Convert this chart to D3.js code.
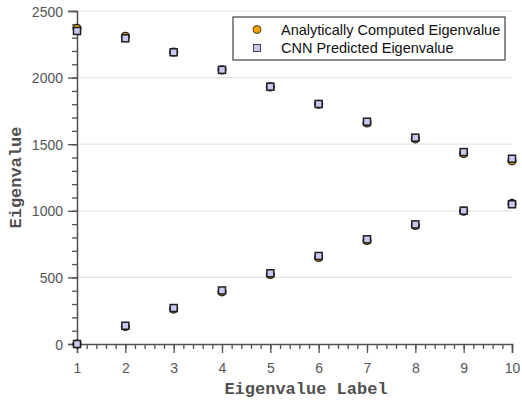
<!DOCTYPE html>
<html>
<head>
<meta charset="utf-8">
<script src="https://cdn.jsdelivr.net/npm/d3@7"></script>
<style>
  body { margin: 0; background: #fff; }
  svg { display: block; }
</style>
</head>
<body>
<div id="chart"></div>
<script>
// eigenvalue labels 1..10
var labels = [1, 2, 3, 4, 5, 6, 7, 8, 9, 10];

// two branches of eigenvalues, analytic vs CNN prediction
var analyticUpper = [2370, 2310, 2192, 2058, 1930, 1800, 1660, 1540, 1430, 1375];
var cnnUpper      = [2350, 2295, 2190, 2058, 1932, 1802, 1669, 1549, 1441, 1391];
var analyticLower = [0, 132, 262, 392, 522, 650, 777, 890, 997, 1055];
var cnnLower      = [0, 137, 270, 402, 531, 661, 786, 898, 1001, 1049];

var yTicks = [0, 500, 1000, 1500, 2000, 2500];
var legendNames = ["Analytically Computed Eigenvalue", "CNN Predicted Eigenvalue"];

var W = 522, H = 404;
var margin = {top: 11, right: 10, bottom: 60, left: 77};
var w = W - margin.left - margin.right,
    h = H - margin.top - margin.bottom;

var axisColor = "#505050";
var orange = "#f5a000", lavender = "#c8c8f2", edge = "#1e1e1e";

var svg = d3.select("#chart").append("svg")
  .attr("width", W).attr("height", H);
var g = svg.append("g")
  .attr("transform", "translate(" + margin.left + "," + margin.top + ")");

var x = d3.scaleLinear().domain([1, 10]).range([0, w]);
var y = d3.scaleLinear().domain([0, 2500]).range([h, 0]);

// grid lines
g.append("g").selectAll("line")
  .data(yTicks.filter(function(d){ return d > 0; }))
  .enter().append("line")
  .attr("x1", 0).attr("x2", w)
  .attr("y1", function(d){ return y(d); })
  .attr("y2", function(d){ return y(d); })
  .attr("stroke", "#e4e4e4")
  .attr("stroke-width", 1.2);

// minor ticks
g.append("g")
  .attr("transform", "translate(0," + h + ")")
  .call(d3.axisBottom(x).tickValues(d3.range(1, 10.001, 0.2)).tickSize(5).tickFormat(""))
  .call(function(s){ s.select(".domain").remove(); });
g.append("g")
  .call(d3.axisLeft(y).tickValues(d3.range(0, 2501, 100)).tickSize(5).tickFormat(""))
  .call(function(s){ s.select(".domain").remove(); });

// major axes
var xAxis = g.append("g")
  .attr("transform", "translate(0," + h + ")")
  .call(d3.axisBottom(x).tickValues(labels).tickSize(9).tickPadding(10).tickFormat(d3.format("d")));
var yAxis = g.append("g")
  .call(d3.axisLeft(y).tickValues(yTicks).tickSize(9).tickPadding(5).tickFormat(d3.format("d")));

[xAxis, yAxis].forEach(function(a){
  a.selectAll("path.domain").attr("stroke", axisColor).attr("stroke-width", 1.5);
  a.selectAll(".tick text")
    .attr("fill", "#555")
    .style("font-family", "Arial, 'Liberation Sans', sans-serif")
    .style("font-size", "14px");
});
g.selectAll(".tick line").attr("stroke", axisColor).attr("stroke-width", 1.3);
yAxis.selectAll(".tick text").attr("dy", "0.36em");

// axis titles
svg.append("text")
  .attr("x", 306).attr("y", 394)
  .attr("text-anchor", "middle")
  .attr("fill", "#505050")
  .style("font-family", "'Courier New', 'Liberation Mono', monospace")
  .style("font-weight", "bold")
  .style("font-size", "17px")
  .text("Eigenvalue Label");

svg.append("text")
  .attr("transform", "translate(21," + (margin.top + h / 2) + ") rotate(-90)")
  .attr("text-anchor", "middle")
  .attr("fill", "#505050")
  .style("font-family", "'Courier New', 'Liberation Mono', monospace")
  .style("font-weight", "bold")
  .style("font-size", "17px")
  .text("Eigenvalue");

// analytic values: orange circles
function circles(vals) {
  g.append("g").selectAll("circle")
    .data(vals).enter().append("circle")
    .attr("cx", function(d, i){ return x(labels[i]); })
    .attr("cy", function(d){ return y(d); })
    .attr("r", 4)
    .attr("fill", orange)
    .attr("stroke", edge)
    .attr("stroke-width", 1.2);
}
// CNN values: lavender squares
function squares(vals) {
  g.append("g").selectAll("rect")
    .data(vals).enter().append("rect")
    .attr("x", function(d, i){ return x(labels[i]) - 3.5; })
    .attr("y", function(d){ return y(d) - 3.5; })
    .attr("width", 7).attr("height", 7)
    .attr("fill", lavender)
    .attr("stroke", edge)
    .attr("stroke-width", 1.5);
}
circles(analyticUpper);
circles(analyticLower);
squares(cnnUpper);
squares(cnnLower);

// legend
var lg = svg.append("g").attr("transform", "translate(233,17)");
lg.append("rect")
  .attr("width", 272).attr("height", 43)
  .attr("fill", "#fff")
  .attr("stroke", "#404040")
  .attr("stroke-width", 1.2);
lg.append("circle")
  .attr("cx", 24).attr("cy", 12.5).attr("r", 4)
  .attr("fill", orange).attr("stroke", edge).attr("stroke-width", 0.8);
lg.append("rect")
  .attr("x", 20.5).attr("y", 27.5).attr("width", 7).attr("height", 7)
  .attr("fill", lavender).attr("stroke", edge).attr("stroke-width", 0.8);
lg.selectAll("text.lab")
  .data(legendNames).enter().append("text")
  .attr("class", "lab")
  .attr("x", 48)
  .attr("y", function(d, i){ return 17.5 + i * 18; })
  .attr("fill", "#111")
  .style("font-family", "Arial, 'Liberation Sans', sans-serif")
  .style("font-size", "14.5px")
  .text(function(d){ return d; });
</script>
</body>
</html>
